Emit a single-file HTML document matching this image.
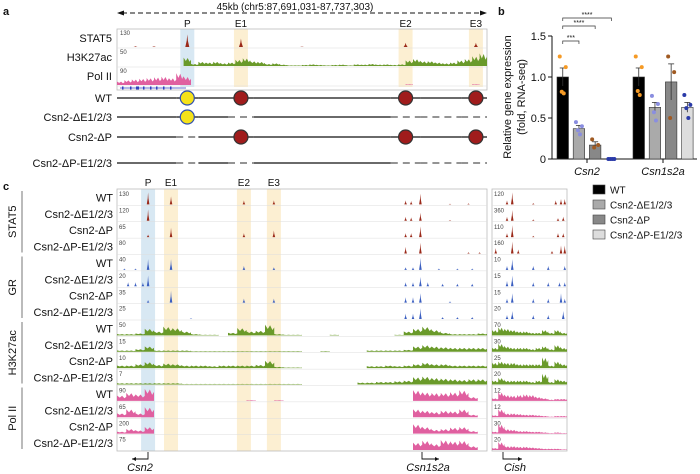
<!DOCTYPE html>
<html><head><meta charset="utf-8"><style>
html,body{margin:0;padding:0;background:#fff;}
svg{display:block;font-family:"Liberation Sans",sans-serif;}
</style></head><body>
<svg id="fig" width="700" height="474" viewBox="0 0 700 474" xmlns="http://www.w3.org/2000/svg">
</svg>
<script>
// ---------- DATA ----------
// panel a
const aStat5Peaks = [[0.19,0.9],[0.335,0.6],[0.78,0.3],[0.97,0.3],[0.05,0.05],[0.1,0.05],[0.5,0.03]];
const aH3Bins = [0,0,0,0,0,0,0,0,0,0.6,0.15,0.3,0.25,0.3,0.2,0.25,0.45,0.55,0.35,0.3,0.15,0.2,0.1,0.05,0.05,0.08,0.12,0.08,0.05,0.08,0.1,0.05,0.12,0.1,0.15,0.1,0.12,0.08,0.12,0.4,0.5,0.35,0.35,0.25,0.2,0.25,0.4,0.5,0.7,0.9];
const aPolBins = [0.25,0.35,0.4,0.45,0.5,0.55,0.6,0.5,0.85,0.6,0,0,0,0,0,0,0,0,0,0,0,0,0,0,0,0,0,0,0,0,0,0,0,0,0,0,0,0,0,0.05,0,0,0,0,0,0,0,0,0.05,0];
const aScales = ["130","50","90"];
const aTrackNames = ["STAT5","H3K27ac","Pol II"];
const constructNames = ["WT","Csn2-\u0394E1/2/3","Csn2-\u0394P","Csn2-\u0394P-E1/2/3"];
// element presence: P,E1,E2,E3
const constructElems = [[1,1,1,1],[1,0,0,0],[0,1,1,1],[0,0,0,0]];
// panel b
const bGenes = ["Csn2","Csn1s2a"];
const bConds = ["WT","Csn2-\u0394E1/2/3","Csn2-\u0394P","Csn2-\u0394P-E1/2/3"];
const bMeans = [[1.0,0.37,0.17,0.0],[1.0,0.63,0.94,0.63]];
const bSems = [[0.11,0.04,0.04,0.0],[0.11,0.06,0.22,0.06]];
const bPoints = [
 [[1.25,1.12,0.82,0.80],[0.45,0.40,0.35,0.30],[0.24,0.17,0.14],[0,0,0,0]],
 [[1.25,1.12,0.83,0.78],[0.77,0.67,0.57,0.47],[1.25,1.06,0.5],[0.78,0.66,0.62,0.5]]
];
const bTicks = [0,0.5,1.0,1.5];
const bTickLabels = ["0","0.5","1.0","1.5"];
const bSig = [["***",1],["****",2],["****",3]];
// panel c
const cGroups = ["STAT5","GR","H3K27ac","Pol II"];
const cScales = ["130","120","65","80","40","20","35","25","50","15","10","7","90","65","200","75"];
const cScalesR = ["120","360","110","160","10","15","15","20","70","30","25","20","12","12","30","20"];
const cStatPeaks = [
 [[0.084,0.9],[0.146,0.6],[0.343,0.3],[0.424,0.3],[0.78,0.3],[0.795,0.25],[0.82,0.8],[0.9,0.05],[0.95,0.08]],
 [[0.084,0.85],[0.78,0.3],[0.795,0.25],[0.82,0.6],[0.9,0.05]],
 [[0.084,0.2],[0.146,0.7],[0.343,0.3],[0.424,0.5],[0.78,0.3],[0.795,0.3],[0.82,0.8]],
 [[0.78,0.5],[0.82,0.8],[0.95,0.1],[0.98,0.1]]
];
const cStatPeaksR = [
 [[0.2,0.3],[0.27,0.9],[0.55,0.1],[0.85,0.3],[0.92,0.4],[0.97,0.4]],
 [[0.2,0.3],[0.27,0.8],[0.55,0.1],[0.88,0.2],[0.95,0.3]],
 [[0.2,0.3],[0.27,0.9],[0.55,0.1],[0.88,0.3],[0.95,0.3]],
 [[0.05,0.4],[0.27,0.9],[0.35,0.3],[0.8,0.2],[0.92,0.6],[0.97,0.6]]
];
const cGRPeaks = [
 [[0.02,0.1],[0.05,0.1],[0.084,0.8],[0.146,0.8],[0.343,0.3],[0.424,0.2],[0.78,0.2],[0.8,0.2],[0.82,0.9],[0.87,0.1],[0.92,0.1],[0.96,0.1]],
 [[0.03,0.3],[0.05,0.3],[0.07,0.3],[0.084,0.8],[0.78,0.3],[0.8,0.3],[0.82,0.7],[0.84,0.3],[0.88,0.2],[0.92,0.2],[0.96,0.2]],
 [[0.084,0.2],[0.146,0.9],[0.343,0.3],[0.424,0.3],[0.78,0.4],[0.8,0.4],[0.82,0.7],[0.9,0.1]],
 [[0.2,0.05],[0.78,0.4],[0.8,0.4],[0.82,0.8],[0.88,0.15],[0.92,0.15],[0.96,0.15]]
];
const cGRPeaksR = [
 [[0.2,0.3],[0.27,0.8],[0.55,0.3],[0.75,0.3],[0.97,0.3]],
 [[0.2,0.4],[0.27,0.8],[0.55,0.3],[0.75,0.3],[0.9,0.3],[0.97,0.3]],
 [[0.2,0.3],[0.27,0.7],[0.55,0.3],[0.75,0.3],[0.92,0.7],[0.97,0.3]],
 [[0.2,0.3],[0.27,0.6],[0.55,0.3],[0.75,0.3],[0.95,0.6]]
];
const cH3Bins = [
 [0.1,0.1,0.15,0.5,0.3,0.65,0.55,0.3,0.1,0.05,0.05,0,0.2,0.55,0.3,0.35,0.8,0.1,0.05,0.05,0,0,0,0.05,0,0,0,0,0,0,0.05,0.3,0.5,0.65,0.4,0.2,0.1,0.1,0.1,0.15],
 [0.1,0.1,0.2,0.4,0.1,0.1,0.1,0.1,0.05,0.05,0.05,0.05,0.05,0.05,0.05,0.05,0.05,0.05,0.05,0.05,0,0,0.05,0,0,0,0,0.1,0.1,0.1,0.1,0.15,0.4,0.5,0.4,0.35,0.3,0.3,0.3,0.3],
 [0.2,0.2,0.3,0.45,0.25,0.35,0.3,0.2,0.2,0.2,0.15,0.2,0.2,0.2,0.2,0.25,0.55,0.1,0.05,0.05,0,0,0,0,0,0,0,0.15,0.15,0.2,0.15,0.2,0.3,0.4,0.3,0.3,0.2,0.2,0.2,0.2],
 [0.1,0.1,0.1,0.1,0.1,0.1,0.1,0.05,0.05,0.05,0.05,0.05,0.05,0.05,0.05,0.05,0.05,0.05,0.05,0.05,0,0,0,0,0,0,0.15,0.15,0.2,0.2,0.25,0.3,0.55,0.6,0.5,0.45,0.4,0.35,0.4,0.4]
];
const cH3BinsR = [
 [0.4,0.6,0.5,0.4,0.3,0.3,0.2,0.2,0.4,0.2,0.4,0.2],
 [0.3,0.6,0.4,0.3,0.3,0.3,0.2,0.3,0.4,0.2,0.5,0.3],
 [0.4,0.5,0.4,0.4,0.3,0.3,0.3,0.3,0.8,0.2,0.5,0.3],
 [0.3,0.5,0.3,0.3,0.3,0.3,0.2,0.3,0.8,0.2,0.4,0.3]
];
const cPolBins = [
 [0.4,0.6,0.5,0.9,0,0,0,0,0,0,0,0,0,0,0.05,0,0,0.05,0,0,0,0,0,0,0,0,0,0,0,0,0,0,0.8,0.65,0.6,0.6,0.65,0.8,0.3,0],
 [0.3,0.6,0.3,0.75,0,0,0,0,0,0,0,0,0,0,0,0,0,0,0,0,0,0,0,0,0,0,0,0,0,0,0,0,0.6,0.5,0.4,0.5,0.45,0.6,0.2,0],
 [0.15,0.35,0.25,0.5,0,0,0,0,0,0,0,0,0,0,0,0,0,0,0,0,0,0,0,0,0,0,0,0,0,0,0,0,0.7,0.5,0.3,0.35,0.45,0.5,0.2,0],
 [0,0,0,0,0,0,0,0,0,0,0,0,0,0,0,0,0,0,0,0,0,0,0,0,0,0,0,0,0,0,0,0,0.55,0.7,0.45,0.75,0.65,0.7,0.3,0]
];
const cPolBinsR = [
 [0.2,0.65,0.45,0.4,0.45,0.5,0.45,0.3,0.2,0.1,0.15,0.15],
 [0.15,0.6,0.3,0.3,0.25,0.2,0.2,0.15,0.1,0.05,0.1,0.1],
 [0.15,0.7,0.35,0.3,0.2,0.2,0.15,0.15,0.1,0.05,0.1,0.05],
 [0.15,0.6,0.3,0.3,0.25,0.25,0.2,0.15,0.1,0.1,0.1,0.05]
];

// ---------- HELPERS ----------
const NS="http://www.w3.org/2000/svg";
const svg=document.getElementById('fig');
function mk(tag,attrs,parent,text){const e=document.createElementNS(NS,tag);for(const k in attrs)e.setAttribute(k,attrs[k]);if(text!==undefined)e.textContent=text;(parent||svg).appendChild(e);return e;}
function txt(x,y,s,size,opts,parent){const o=Object.assign({x:x,y:y,'font-size':size,fill:'#111'},opts||{});return mk('text',o,parent,s);}
function spikes(g,peaks,x0,w,yb,h,color,pw){
  peaks.forEach(p=>{const cx=x0+p[0]*w;const ph=p[1]*h;
    const e=mk('polygon',{points:`${cx-pw},${yb} ${cx-pw*0.3},${yb-ph*0.5} ${cx},${yb-ph} ${cx+pw*0.3},${yb-ph*0.5} ${cx+pw},${yb}`,fill:color},g);
    
    
  });
}
function area(g,bins,x0,w,yb,h,color){
  const n=bins.length,bw=w/n;let pts=`${x0},${yb} `;
  bins.forEach((v,i)=>{const xa=x0+i*bw;const y=yb-v*h;
    pts+=`${xa},${y} ${xa+bw*0.3},${yb-v*h*0.6} ${xa+bw*0.55},${yb-v*h*0.95} ${xa+bw*0.8},${yb-v*h*0.5} ${xa+bw},${yb-v*h*0.75} `;});
  pts+=`${x0+w},${yb}`;
  const e=mk('polygon',{points:pts,fill:color},g);
  
  
}

// ---------- PANEL A ----------
const ga=mk('g',{});
txt(3,15,'a',11,{'font-weight':'bold'},ga);
const AX0=117,AW=370;
const ax=f=>AX0+f*AW;
mk('line',{x1:122,y1:13,x2:482,y2:13,stroke:'#111','stroke-dasharray':'5,3','stroke-width':0.9},ga);
mk('polygon',{points:'117,13 124,10.5 124,15.5',fill:'#111'},ga);
mk('polygon',{points:'487,13 480,10.5 480,15.5',fill:'#111'},ga);
const ttl=txt(295,10,'45kb (chr5:87,691,031-87,737,303)',10,{'text-anchor':'middle'},ga);

const aElemF=[0.19,0.335,0.78,0.97];const aElemL=["P","E1","E2","E3"];
aElemF.forEach((f,i)=>{const r=mk('rect',{x:ax(f)-7,y:29,width:14,height:58,fill:i==0?'#d8e8f3':'#fcefd2'},ga);
  txt(ax(f),27,aElemL[i],10,{'text-anchor':'middle'},ga);});
mk('rect',{x:AX0,y:29,width:AW,height:61,fill:'none',stroke:'#bbb','stroke-width':0.8},ga);
[48,67,86].forEach(y=>mk('line',{x1:AX0,y1:y,x2:AX0+AW,y2:y,stroke:'#ddd','stroke-width':0.6},ga));
aTrackNames.forEach((n,i)=>{const yb=[48,67,86][i];txt(112,yb-6,n,11,{'text-anchor':'end'},ga);txt(AX0+3,yb-13,aScales[i],6,{fill:'#444'},ga);});
spikes(ga,aStat5Peaks,AX0,AW,47,14,'#9b2a1a',2);
area(ga,aH3Bins,AX0,AW,66,14,'#6a9a2a');
area(ga,aPolBins,AX0,AW,85,14,'#e060a0');
mk('line',{x1:120,y1:88,x2:186,y2:88,stroke:'#3040c0','stroke-width':0.8},ga);
[122,130,136,143,150,156,163,170].forEach(x=>mk('rect',{x:x,y:86.5,width:x==136?3:1.5,height:3,fill:'#3040c0'},ga));
const cy=[98,117,137,163];
constructNames.forEach((n,i)=>{const y=cy[i];const g=mk('g',{},ga);
  txt(112,y+4,n,11,{'text-anchor':'end'},g);
  const el=constructElems[i];
  const segs=[[0,0.16],[0.16,0.22],[0.22,0.3],[0.3,0.37],[0.37,0.74],[0.74,0.82],[0.82,0.93],[0.93,1]];
  const segType=[1,el[0]?1:0,1,el[1]?1:0,1,el[2]?1:0,1,el[3]?1:0];
  segs.forEach((s,k)=>{let solid=segType[k];
    if(i==1&&k>=3)solid=(k==4?1:0);
    if(i==3&&k>=1)solid=(k==4||k==2?1:0);
    mk('line',{x1:ax(s[0]),y1:y,x2:ax(s[1]),y2:y,stroke:'#555','stroke-width':solid?1.8:1.2,'stroke-dasharray':solid?'none':'7,5'},g);});
  el.forEach((v,k)=>{if(!v)return;const c=mk('circle',{cx:ax(aElemF[k]),cy:y,r:7,fill:k==0?'#f5e21a':'#a01c1c',stroke:k==0?'#3050b0':'#333','stroke-width':1.2},g);});
});

// ---------- PANEL B ----------
const gb=mk('g',{});
txt(498,15,'b',11,{'font-weight':'bold'},gb);
const BY0=159,BYS=(159-36)/1.5;
const by=v=>BY0-v*BYS;
const groupX=[557,633],pitch=16.2,bw=11.5;
const barX=(g,c)=>groupX[g]+c*pitch;
const barFill=['#000','#aaa','#888','#ddd'];
const ptCol=['#f59a25','#8a8ee0','#a05a22','#2a3aa8'];
mk('line',{x1:552,y1:36,x2:552,y2:159,stroke:'#111','stroke-width':1},gb);
mk('line',{x1:552,y1:159,x2:697,y2:159,stroke:'#111','stroke-width':1},gb);
bTicks.forEach((t,i)=>{mk('line',{x1:548,y1:by(t),x2:552,y2:by(t),stroke:'#111'},gb);txt(546,by(t)+4,bTickLabels[i],11,{'text-anchor':'end'},gb);});
const yt=txt(0,0,'Relative gene expression',11,{'text-anchor':'middle',transform:'translate(511,97) rotate(-90)'},gb);

txt(0,0,'(fold, RNA-seq)',11,{'text-anchor':'middle',transform:'translate(525,97) rotate(-90)'},gb);
bGenes.forEach((gname,g)=>{
  mk('line',{x1:groupX[g]+30,y1:159,x2:groupX[g]+30,y2:163,stroke:'#111'},gb);
  const l=txt(groupX[g]+30,175,gname,11,{'text-anchor':'middle','font-style':'italic'},gb);
  bConds.forEach((c,k)=>{const x=barX(g,k),m=bMeans[g][k];
    const r=mk('rect',{x:x,y:by(m),width:bw,height:Math.max(0,BY0-by(m)),fill:barFill[k],stroke:'#333','stroke-width':0.6},gb);
    
    const s=bSems[g][k];if(s>0){const cx=x+bw/2;mk('line',{x1:cx,y1:by(m-s),x2:cx,y2:by(m+s),stroke:'#333','stroke-width':0.8},gb);mk('line',{x1:cx-3,y1:by(m+s),x2:cx+3,y2:by(m+s),stroke:'#333','stroke-width':0.8},gb);}
    const pts=bPoints[g][k];pts.forEach((p,j)=>{const off=[-3,3,-1,1][j]||0;const d=mk('circle',{cx:x+bw/2+off,cy:by(p),r:2,fill:ptCol[k]},gb);});
  });
});
const sigY=[41,26,18];
bSig.forEach((s,i)=>{const x1=barX(0,0)+bw/2,x2=barX(0,s[1])+bw/2,y=sigY[i];
  mk('polyline',{points:`${x1},${y+3} ${x1},${y} ${x2},${y} ${x2},${y+3}`,fill:'none',stroke:'#333','stroke-width':0.7},gb);
  txt((x1+x2)/2,y-1,s[0],7,{'text-anchor':'middle'},gb);});
bConds.forEach((c,k)=>{const y=185+k*15;const g=mk('g',{},gb);
  mk('rect',{x:593,y:y,width:12,height:9,fill:barFill[k],stroke:'#444','stroke-width':0.6},g);txt(610,y+8.5,c,10,{},g);});

// ---------- PANEL C ----------
const gc=mk('g',{});
txt(3,190,'c',11,{'font-weight':'bold'},gc);
const CX0=117,CW=370,RX0=492,RW=75,CY0=189,RH=(451-189)/16;
const cx=f=>CX0+f*CW;
const cElemF=[0.084,0.146,0.343,0.424];
cElemF.forEach((f,i)=>{const r=mk('rect',{x:cx(f)-7,y:CY0,width:14,height:451-CY0,fill:i==0?'#d8e8f3':'#fcefd2'},gc);
  txt(cx(f),186,aElemL[i],10,{'text-anchor':'middle'},gc);});
mk('rect',{x:CX0,y:CY0,width:CW,height:451-CY0,fill:'none',stroke:'#bbb','stroke-width':0.8},gc);
mk('rect',{x:RX0,y:CY0,width:RW,height:451-CY0,fill:'none',stroke:'#bbb','stroke-width':0.8},gc);
for(let r=0;r<16;r++){const yb=CY0+(r+1)*RH;const gi=Math.floor(r/4),k=r%4;
  if(r<15){mk('line',{x1:CX0,y1:yb,x2:CX0+CW,y2:yb,stroke:'#ddd','stroke-width':0.6},gc);mk('line',{x1:RX0,y1:yb,x2:RX0+RW,y2:yb,stroke:'#ddd','stroke-width':0.6},gc);}
  const lb=txt(113,yb-4,constructNames[k],11,{'text-anchor':'end'},gc);
  txt(CX0+2,yb-RH+7,cScales[r],6,{fill:'#444'},gc);txt(RX0+2,yb-RH+7,cScalesR[r],6,{fill:'#444'},gc);
  const b=yb-1,h=RH-3;
  if(gi==0){spikes(gc,cStatPeaks[k],CX0,CW,b,h,'#9b2a1a',1.3);spikes(gc,cStatPeaksR[k],RX0,RW,b,h,'#9b2a1a',1.3);}
  if(gi==1){spikes(gc,cGRPeaks[k],CX0,CW,b,h,'#3a5ec0',1.3);spikes(gc,cGRPeaksR[k],RX0,RW,b,h,'#3a5ec0',1.3);}
  if(gi==2){area(gc,cH3Bins[k],CX0,CW,b,h,'#6a9a2a');area(gc,cH3BinsR[k],RX0,RW,b,h,'#6a9a2a');}
  if(gi==3){area(gc,cPolBins[k],CX0,CW,b,h,'#e060a0');area(gc,cPolBinsR[k],RX0,RW,b,h,'#e060a0');}
}
cGroups.forEach((n,i)=>{const y0=CY0+i*4*RH+2,y1=CY0+(i+1)*4*RH-2;
  mk('line',{x1:22,y1:y0,x2:22,y2:y1,stroke:'#777','stroke-width':1},gc);
  const t=txt(0,0,n,11,{'text-anchor':'middle',transform:`translate(16,${(y0+y1)/2}) rotate(-90)`},gc);
  });
function garrow(xs,xe,label,lx){mk('polyline',{points:`${xs},452 ${xs},459 ${xe},459`,fill:'none',stroke:'#111','stroke-width':0.9},gc);
  const d=xe>xs?1:-1;mk('polygon',{points:`${xe},459 ${xe-4*d},457 ${xe-4*d},461`,fill:'#111'},gc);
  const t=txt(lx,471,label,11,{'text-anchor':'middle','font-style':'italic'},gc);}
garrow(148,132,'Csn2',140);
garrow(422,439,'Csn1s2a',428);
garrow(503,522,'Cish',515);
</script>
</body></html>
